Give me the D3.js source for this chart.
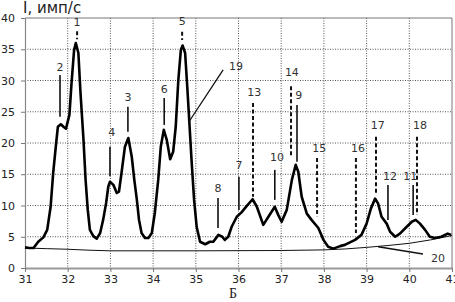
<!DOCTYPE html>
<html>
<head>
<meta charset="utf-8">
<script src="https://cdn.jsdelivr.net/npm/d3@7"></script>
<style>
  body { margin: 0; background: #fff; }
  svg { display: block; }
</style>
</head>
<body>
<svg id="chart" width="455" height="302"></svg>
<script>
// spectrum (thick curve)
const specX = [31.00, 31.10, 31.20, 31.31, 31.43, 31.52, 31.60, 31.66, 31.73, 31.77, 31.84, 31.90, 31.96, 32.04, 32.09, 32.15, 32.19, 32.25, 32.30, 32.37, 32.42, 32.47, 32.52, 32.60, 32.68, 32.76, 32.83, 32.90, 32.95, 32.99, 33.07, 33.15, 33.20, 33.26, 33.34, 33.42, 33.50, 33.56, 33.62, 33.67, 33.73, 33.81, 33.89, 33.97, 34.04, 34.12, 34.18, 34.25, 34.32, 34.40, 34.47, 34.53, 34.59, 34.65, 34.69, 34.75, 34.80, 34.85, 34.90, 34.96, 35.02, 35.10, 35.22, 35.33, 35.41, 35.53, 35.62, 35.68, 35.76, 35.84, 35.96, 36.07, 36.19, 36.33, 36.43, 36.58, 36.70, 36.85, 36.93, 37.01, 37.13, 37.25, 37.34, 37.40, 37.48, 37.60, 37.71, 37.87, 37.99, 38.10, 38.22, 38.38, 38.49, 38.73, 38.88, 39.00, 39.10, 39.20, 39.27, 39.35, 39.47, 39.55, 39.67, 39.78, 39.94, 40.06, 40.15, 40.25, 40.37, 40.48, 40.60, 40.75, 40.90, 40.98];
const specY = [3.3, 3.2, 3.2, 4.2, 4.9, 6.1, 9.8, 15.2, 20.0, 22.6, 23.0, 22.6, 22.3, 24.5, 29.6, 34.9, 36.0, 34.4, 28.0, 20.5, 14.0, 9.3, 6.1, 5.1, 4.7, 5.6, 7.7, 10.4, 13.0, 13.8, 13.3, 12.0, 12.2, 15.2, 19.4, 20.8, 17.8, 14.1, 10.9, 7.7, 5.6, 4.8, 4.8, 5.6, 8.8, 14.1, 19.4, 22.1, 20.5, 17.4, 18.6, 22.6, 30.0, 34.9, 35.6, 34.4, 29.0, 23.2, 17.3, 10.9, 6.6, 4.2, 3.8, 4.2, 4.2, 5.3, 5.0, 4.5, 5.0, 6.6, 8.2, 8.9, 9.9, 11.0, 9.8, 6.9, 8.2, 9.8, 8.5, 7.4, 9.3, 14.1, 16.5, 15.4, 11.4, 8.7, 7.7, 6.4, 4.5, 3.4, 3.1, 3.5, 3.7, 4.5, 5.3, 7.1, 9.5, 11.1, 10.3, 8.2, 7.1, 5.8, 5.0, 5.5, 6.6, 7.4, 7.7, 7.1, 6.1, 5.0, 4.8, 5.0, 5.5, 5.3];

// background line (20)
const bgX = [31, 31.5, 32, 32.5, 33, 35, 37, 38, 38.5, 39, 39.5, 40, 40.5, 41];
const bgY = [3.2, 3.1, 3.0, 2.85, 2.75, 2.75, 2.8, 2.9, 3.05, 3.3, 3.6, 3.95, 4.5, 5.2];

// peak markers
const markLabels = ["1", "5", "2", "3", "4", "6", "7", "8", "9", "14", "10", "13", "15", "16", "17", "18", "12", "11"];
const markX = [32.22, 34.68, 31.82, 33.41, 32.99, 34.26, 36.01, 35.52, 37.37, 37.23, 36.85, 36.34, 37.84, 38.75, 39.22, 40.18, 39.50, 40.09];
const markTop = [37.9, 37.8, 30.9, 25.8, 19.4, 27.2, 14.6, 11.2, 26.1, 29.1, 15.7, 26.4, 17.6, 17.6, 21.0, 21.0, 13.3, 13.3];
const markBottom = [36.6, 36.5, 24.2, 21.8, 14.7, 22.9, 9.3, 6.4, 17.0, 17.8, 10.9, 11.4, 8.2, 5.6, 11.7, 8.5, 7.7, 8.5];
const markDashed = [true, true, false, false, false, false, false, false, false, true, false, true, true, true, true, true, false, false];
const labelX = [32.22, 34.68, 31.82, 33.41, 33.03, 34.26, 36.01, 35.52, 37.41, 37.25, 36.90, 36.37, 37.89, 38.80, 39.26, 40.25, 39.55, 40.02];
const labelY = [39.4, 39.5, 32.2, 27.4, 21.8, 28.6, 16.5, 12.8, 27.7, 31.4, 17.8, 28.2, 19.2, 19.2, 22.9, 22.9, 14.7, 14.7];

// leader-line callouts
const calloutLabels = ["19", "20"];
const calloutFrom = [[35.64, 31.7], [40.32, 2.24]];
const calloutTo = [[34.84, 23.4], [39.27, 3.4]];
const calloutText = [[35.94, 32.3], [40.67, 1.6]];

const xTicks = [31, 32, 33, 34, 35, 36, 37, 38, 39, 40, 41];
const yTicks = [0, 5, 10, 15, 20, 25, 30, 35, 40];

const margin = { top: 18, right: 3, bottom: 34, left: 25 };
const width = 455 - margin.left - margin.right;
const height = 302 - margin.top - margin.bottom;

const svg = d3.select("#chart");
const g = svg.append("g").attr("transform", `translate(${margin.left},${margin.top})`);

const x = d3.scaleLinear().domain([31, 41]).range([0, width]);
const y = d3.scaleLinear().domain([0, 40]).range([height, 0]);

// dotted grid
g.append("g")
  .selectAll("line")
  .data(xTicks.slice(1, -1))
  .join("line")
  .attr("x1", (d) => x(d)).attr("x2", (d) => x(d))
  .attr("y1", 0).attr("y2", height)
  .attr("stroke", "#555").attr("stroke-width", 1)
  .attr("stroke-dasharray", "1,1.5");
g.append("g")
  .selectAll("line")
  .data(yTicks.slice(1, -1))
  .join("line")
  .attr("x1", 0).attr("x2", width)
  .attr("y1", (d) => y(d)).attr("y2", (d) => y(d))
  .attr("stroke", "#555").attr("stroke-width", 1)
  .attr("stroke-dasharray", "1,1.5");

// top and right border
g.append("line").attr("x1", 0).attr("x2", width).attr("y1", 0).attr("y2", 0)
  .attr("stroke", "#777").attr("stroke-width", 1);
g.append("line").attr("x1", width).attr("x2", width).attr("y1", 0).attr("y2", height)
  .attr("stroke", "#777").attr("stroke-width", 1);

// axes
const yAxis = g.append("g")
  .call(d3.axisLeft(y).tickValues(yTicks).tickSize(4).tickPadding(6).tickSizeOuter(0));
const xAxis = g.append("g")
  .attr("transform", `translate(0,${height})`)
  .call(d3.axisBottom(x).tickValues(xTicks).tickSize(4).tickPadding(3).tickSizeOuter(0));

[xAxis, yAxis].forEach((a) => {
  a.selectAll("text")
    .style("font-family", "DejaVu Sans")
    .style("font-size", "11px")
    .attr("fill", "#222");
  a.selectAll("line").attr("stroke", "#777");
});
yAxis.select(".domain").attr("stroke", "#888").attr("stroke-width", 1.2);
xAxis.select(".domain").attr("stroke", "#999").attr("stroke-width", 2);

// background line
const bgLine = d3.line().x((d, i) => x(bgX[i])).y((d, i) => y(bgY[i]));
g.append("path")
  .attr("d", bgLine(bgX))
  .attr("fill", "none")
  .attr("stroke", "#111")
  .attr("stroke-width", 1);

// spectrum
const line = d3.line().x((d, i) => x(specX[i])).y((d, i) => y(specY[i]));
g.append("path")
  .attr("d", line(specX))
  .attr("fill", "none")
  .attr("stroke", "#000")
  .attr("stroke-width", 2.6)
  .attr("stroke-linejoin", "round");

// peak markers
markLabels.forEach((lab, i) => {
  g.append("line")
    .attr("x1", x(markX[i])).attr("x2", x(markX[i]))
    .attr("y1", y(markTop[i])).attr("y2", y(markBottom[i]))
    .attr("stroke", "#111")
    .attr("stroke-width", markDashed[i] ? 2 : 1.6)
    .attr("stroke-dasharray", markDashed[i] ? "4,2.5" : null);
  g.append("text")
    .attr("x", x(labelX[i]))
    .attr("y", y(labelY[i]))
    .attr("dy", "0.36em")
    .attr("text-anchor", "middle")
    .style("font-family", "DejaVu Sans")
    .style("font-size", "11px")
    .attr("fill", "#333")
    .text(lab);
});

// callouts
calloutLabels.forEach((lab, i) => {
  g.append("line")
    .attr("x1", x(calloutFrom[i][0])).attr("y1", y(calloutFrom[i][1]))
    .attr("x2", x(calloutTo[i][0])).attr("y2", y(calloutTo[i][1]))
    .attr("stroke", "#111").attr("stroke-width", 1.3);
  g.append("text")
    .attr("x", x(calloutText[i][0]))
    .attr("y", y(calloutText[i][1]))
    .attr("dy", "0.36em")
    .attr("text-anchor", "middle")
    .style("font-family", "DejaVu Sans")
    .style("font-size", "11px")
    .attr("fill", "#333")
    .text(lab);
});

// titles
svg.append("text")
  .attr("x", 23)
  .attr("y", 13)
  .style("font-family", "DejaVu Sans")
  .style("font-size", "15px")
  .attr("fill", "#222")
  .text("I, имп/с");

svg.append("text")
  .attr("x", 233)
  .attr("y", 298)
  .attr("text-anchor", "middle")
  .style("font-family", "Liberation Serif")
  .style("font-size", "14px")
  .attr("fill", "#222")
  .text("Б");
</script>
</body>
</html>
